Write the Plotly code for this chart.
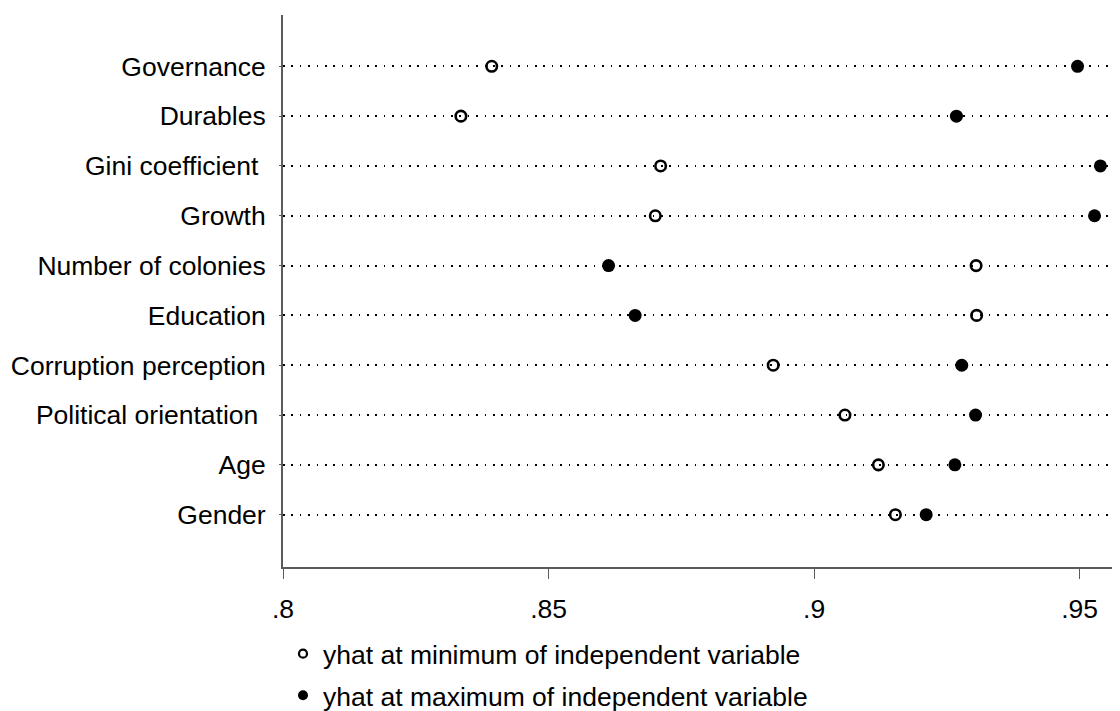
import plotly.graph_objects as go

categories = ["Gender", "Age", "Political orientation\u00a0", "Corruption perception",
              "Education", "Number of colonies", "Growth", "Gini coefficient\u00a0",
              "Durables", "Governance"]
yhat_min = [0.9153, 0.9121, 0.9058, 0.8923, 0.9306, 0.9305, 0.8701, 0.8711, 0.8335, 0.8393]
yhat_max = [0.9211, 0.9265, 0.9304, 0.9278, 0.8663, 0.8613, 0.9528, 0.9539, 0.9268, 0.9496]
tick_vals = [0.80, 0.85, 0.90, 0.95]
tick_text = [".8", ".85", ".9", ".95"]
legend_names = ["yhat at minimum of independent variable",
                "yhat at maximum of independent variable"]

FONT = "Liberation Sans, Arial, sans-serif"
FS = 26.5

fig = go.Figure()
fig.add_trace(go.Scatter(
    x=yhat_min, y=categories, mode="markers", showlegend=False,
    marker=dict(symbol="circle-open", size=10.5, color="black", line=dict(width=2.6, color="black")),
    cliponaxis=False))
fig.add_trace(go.Scatter(
    x=yhat_max, y=categories, mode="markers", showlegend=False,
    marker=dict(symbol="circle", size=13, color="black", line=dict(width=0)),
    cliponaxis=False))
# legend-only entries (smaller symbols as in the reference)
fig.add_trace(go.Scatter(
    x=[None], y=[None], mode="markers", name=legend_names[0], legendgroup="a",
    marker=dict(symbol="circle-open", size=8, color="black", line=dict(width=2.2, color="black"))))
fig.add_trace(go.Scatter(
    x=[None], y=[None], mode="markers", name=legend_names[1], legendgroup="b",
    marker=dict(symbol="circle", size=10, color="black")))

fig.update_layout(
    width=1120, height=711,
    margin=dict(l=275, r=0, t=7, b=146),
    paper_bgcolor="white", plot_bgcolor="white",
    font=dict(family=FONT, size=FS, color="black"),
    showlegend=True,
    legend=dict(x=0.0, y=-0.115, xanchor="left", yanchor="top",
                font=dict(family=FONT, size=FS, color="black"),
                bgcolor="rgba(0,0,0,0)", itemwidth=30, tracegroupgap=4,
                traceorder="grouped"),
    xaxis=dict(range=[0.8, 0.9591], tickvals=tick_vals, ticktext=tick_text,
               showgrid=False, zeroline=False, showline=True, linecolor="#5a5a5a",
               linewidth=2, ticks="outside", ticklen=10, tickwidth=1, tickcolor="#5a5a5a",
               ticklabelstandoff=7, tickfont=dict(family=FONT, size=FS, color="black")),
    yaxis=dict(type="category", categoryorder="array", categoryarray=categories,
               range=[-1.05, 10.03], showgrid=True, gridcolor="black", gridwidth=1.6,
               griddash="1.6px,6.8px", zeroline=False, showline=True,
               linecolor="#5a5a5a", linewidth=2, ticks="outside", ticklen=2,
               tickcolor="#5a5a5a", ticklabelstandoff=8,
               tickfont=dict(family=FONT, size=FS, color="black")),
)

fig.write_html("out.html")
